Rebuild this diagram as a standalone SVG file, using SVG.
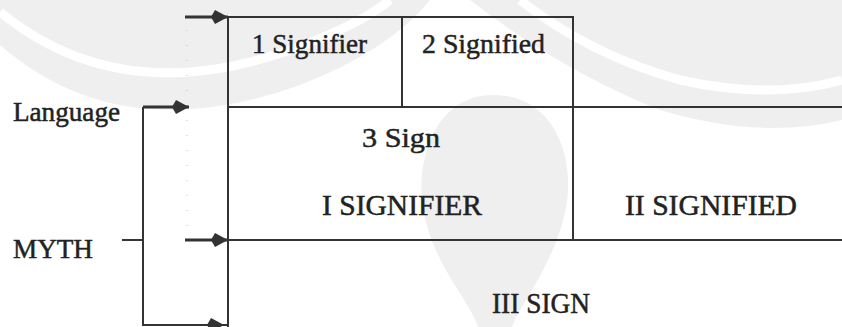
<svg xmlns="http://www.w3.org/2000/svg" width="842" height="327" viewBox="0 0 842 327">
<style>
.t{font-family:"Liberation Serif","Times New Roman",serif;fill:#222;stroke:#222;stroke-width:0.5}
.s{font-size:28px}
.c{font-size:30px}
.ln{stroke:#333;stroke-width:2;fill:none;stroke-linecap:square}
.ar{stroke:#333;stroke-width:3;fill:none}
.br{stroke:#333;stroke-width:2;fill:none}
.wm{fill:#efefef}
</style>
<defs>
<marker id="ah" viewBox="0 0 18 16" refX="17" refY="8" markerWidth="18" markerHeight="16" markerUnits="userSpaceOnUse" orient="auto">
<path d="M0,8 L4,1 L17,8 L4,15 Z" fill="#333"/>
</marker>
</defs>
<rect width="842" height="327" fill="#fff"/>
<g id="watermark">
<path class="wm" d="M0,0 L0,45 Q120,150 300,85 Q390,50 430,0 Z"/>
<path d="M0,12 Q120,110 290,50 Q360,25 390,0" stroke="#fff" stroke-width="9" fill="none"/>
<path class="wm" d="M470,0 Q560,70 660,110 Q760,140 842,120 L842,0 Z"/>
<path d="M520,0 Q590,55 680,80 Q770,100 842,80" stroke="#fff" stroke-width="9" fill="none"/>
<path class="wm" d="M493,95 C440,95 418,150 422,200 C428,260 470,300 478,327 L512,327 C522,300 565,250 568,190 C570,140 545,95 493,95 Z"/>
</g>
<g id="table">
<path class="ln" d="M228,17 H573 M228,17 V327 M402,17 V107 M573,17 V240 M228,107 H842 M228,240 H842"/>
<path d="M187,30 V232" stroke="#c8c8c8" stroke-width="1.2" stroke-dasharray="1 14" fill="none"/>
</g>
<g id="n-signifier1"><text class="t s" x="252" y="53" textLength="115" lengthAdjust="spacingAndGlyphs">1 Signifier</text></g>
<g id="n-signified2"><text class="t s" x="422" y="53" textLength="123" lengthAdjust="spacingAndGlyphs">2 Signified</text></g>
<g id="n-sign3"><text class="t s" x="362" y="147" textLength="78" lengthAdjust="spacingAndGlyphs">3  Sign</text></g>
<g id="n-signifierI"><text class="t c" x="322" y="215" textLength="160" lengthAdjust="spacingAndGlyphs">I  SIGNIFIER</text></g>
<g id="n-signifiedII"><text class="t c" x="625" y="215" textLength="172" lengthAdjust="spacingAndGlyphs">II  SIGNIFIED</text></g>
<g id="n-signIII"><text class="t c" x="492" y="313" textLength="98" lengthAdjust="spacingAndGlyphs">III SIGN</text></g>
<g id="n-language"><text class="t s" x="13" y="121" textLength="107" lengthAdjust="spacingAndGlyphs">Language</text></g>
<g id="n-myth"><text class="t s" x="13" y="258" textLength="80" lengthAdjust="spacingAndGlyphs">MYTH</text></g>
<g id="connectors">
<path class="br" d="M143,107 V325 H228"/>
<path class="br" d="M122,240 H143"/>
<path class="ar" d="M185,17 H228" marker-end="url(#ah)"/>
<path class="ar" d="M143,107 H189" marker-end="url(#ah)"/>
<path class="ar" d="M185,240 H228" marker-end="url(#ah)"/>
<path class="br" d="M200,325 H224" marker-end="url(#ah)"/>
</g>
</svg>
